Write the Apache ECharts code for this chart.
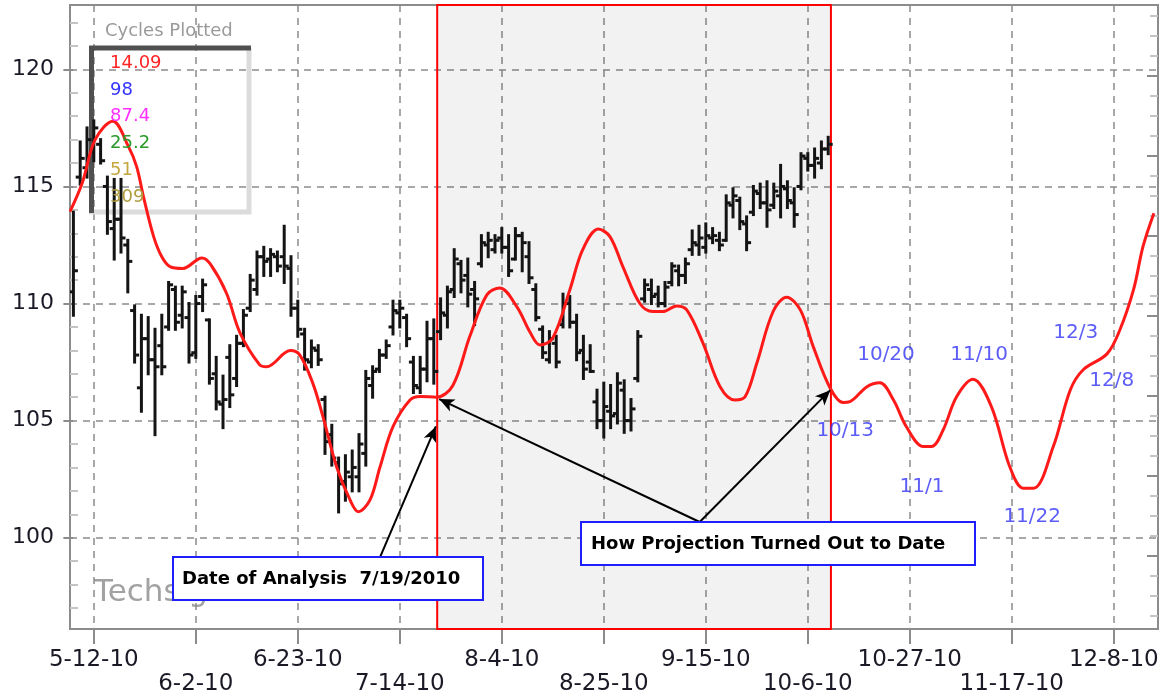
<!DOCTYPE html>
<html>
<head>
<meta charset="utf-8">
<style>
  html, body { margin: 0; padding: 0; background: #fff; }
  #main { width: 1166px; height: 698px; }
</style>
<script src="https://cdn.jsdelivr.net/npm/echarts@6.0.0/dist/echarts.min.js"></script>
</head>
<body>
<div id="main"></div>
<script>
// x runs in weekdays: 0 = Fri 2010-05-07, 3 = Wed 2010-05-12
const tickIdx = [3, 18, 33, 48, 63, 78, 93, 108, 123, 138, 153];
const tickLabels = ['5-12-10', '6-2-10', '6-23-10', '7-14-10', '8-4-10', '8-25-10',
  '9-15-10', '10-6-10', '10-27-10', '11-17-10', '12-8-10'];
const yTicks = [100, 105, 110, 115, 120];
const yMinor = [97, 98, 99, 101, 102, 103, 104, 106, 107, 108, 109, 111, 112, 113, 114,
  116, 117, 118, 119, 121, 122];

// daily bars from weekday 0, [open, high, low, close]
const ohlc = [
  [110.5, 113.9, 109.5, 111.4], [115.4, 116.9, 115.1, 116.2], [115.8, 117.5, 115.4, 117.0],
  [116.5, 117.8, 116.1, 117.5], [116.8, 117.0, 116.0, 116.1], [115.0, 115.4, 113.0, 113.5],
  [113.2, 115.3, 111.9, 113.6], [113.6, 115.3, 112.2, 112.8], [112.5, 112.7, 110.5, 111.8],
  [109.7, 109.9, 107.5, 107.8], [106.4, 109.5, 105.4, 108.5], [108.5, 109.4, 107.0, 107.6],
  [107.6, 108.9, 104.4, 107.3], [108.2, 109.5, 107.0, 107.3], [109.0, 110.9, 108.9, 110.8],
  [110.6, 110.7, 108.9, 109.2], [109.5, 110.7, 109.0, 110.5], [109.4, 110.0, 107.5, 107.8],
  [107.9, 110.3, 107.7, 110.0], [110.3, 111.0, 109.7, 110.8], [109.3, 109.3, 106.6, 106.8],
  [107.0, 107.7, 105.5, 105.8], [105.7, 106.9, 104.7, 105.9], [107.7, 108.2, 105.6, 106.1],
  [106.8, 108.6, 106.5, 108.3], [108.3, 109.7, 108.2, 109.5], [109.8, 111.2, 109.7, 111.0],
  [110.6, 112.2, 110.4, 112.0], [112.0, 112.4, 111.2, 111.8], [111.9, 112.3, 111.2, 112.1],
  [112.0, 112.2, 111.4, 111.6], [112.0, 113.3, 110.9, 111.6], [111.5, 112.0, 109.5, 109.8],
  [109.8, 110.1, 108.6, 108.9], [108.7, 108.9, 107.2, 107.6], [107.5, 108.4, 107.3, 108.1],
  [108.0, 108.2, 107.4, 107.6], [105.9, 106.0, 103.6, 104.1], [104.4, 104.8, 103.1, 103.4],
  [103.2, 103.4, 101.1, 102.3], [102.4, 103.5, 101.6, 102.8], [102.6, 103.7, 102.0, 103.0],
  [102.6, 104.4, 102.0, 104.0], [103.6, 107.1, 103.1, 106.8], [106.5, 107.3, 106.0, 107.1],
  [107.2, 108.0, 107.1, 107.8], [107.8, 108.4, 107.7, 108.2], [109.0, 110.1, 108.7, 109.7],
  [109.6, 110.1, 109.0, 109.8], [109.4, 109.5, 108.2, 108.5], [107.5, 107.7, 106.2, 106.5],
  [106.4, 107.7, 106.2, 107.2], [107.2, 109.2, 106.7, 108.5], [108.5, 109.3, 106.6, 107.1],
  [108.8, 110.2, 108.5, 109.6], [109.5, 110.7, 109.0, 110.5], [110.6, 112.3, 110.3, 111.9],
  [111.7, 111.8, 110.5, 111.0], [111.2, 111.9, 109.9, 110.4], [110.6, 110.9, 109.1, 110.2],
  [111.7, 112.9, 111.6, 112.6], [112.5, 113.0, 112.0, 112.7], [112.3, 112.9, 112.2, 112.7],
  [112.8, 113.2, 112.2, 112.4], [112.4, 112.9, 111.2, 111.4], [111.9, 113.2, 111.9, 112.9],
  [112.9, 113.0, 111.4, 112.6], [112.0, 112.6, 110.9, 111.1], [110.6, 110.8, 109.3, 109.4],
  [108.9, 109.0, 107.7, 107.9], [107.6, 108.8, 107.5, 108.5], [108.3, 108.6, 107.3, 107.5],
  [109.1, 110.4, 109.0, 110.0], [110.0, 110.3, 109.0, 109.2], [109.2, 109.5, 107.6, 107.9],
  [108.0, 108.6, 106.8, 107.2], [107.5, 108.2, 107.1, 107.1], [105.8, 106.3, 104.7, 105.0],
  [105.0, 106.6, 104.3, 105.6], [105.4, 106.5, 104.7, 105.2], [105.3, 107.0, 104.9, 106.6],
  [106.3, 106.7, 104.5, 105.0], [105.0, 105.9, 104.6, 105.5], [106.8, 108.8, 106.7, 108.6],
  [110.2, 111.0, 110.1, 110.8], [110.6, 111.0, 110.0, 110.3], [110.4, 110.7, 109.9, 110.0],
  [110.0, 110.9, 109.9, 110.7], [110.9, 111.7, 110.8, 111.6], [111.4, 111.6, 110.8, 111.2],
  [111.2, 111.9, 110.9, 111.7], [112.3, 113.1, 112.1, 112.6], [112.5, 113.3, 112.1, 112.8],
  [112.4, 113.4, 112.2, 112.9], [112.8, 113.2, 112.6, 112.9], [112.7, 113.0, 112.3, 112.5],
  [112.7, 114.6, 112.7, 114.3], [114.2, 114.9, 113.7, 114.6], [114.4, 114.5, 113.2, 113.5],
  [113.4, 113.7, 112.3, 112.6], [113.9, 115.0, 113.8, 114.8], [114.7, 115.1, 114.1, 114.3],
  [114.3, 115.2, 113.3, 114.0], [114.2, 115.1, 114.1, 114.8], [114.6, 115.9, 113.7, 115.0],
  [114.9, 115.2, 114.1, 114.4], [114.3, 114.9, 113.3, 113.8], [115.0, 116.4, 114.9, 116.3],
  [116.2, 116.4, 115.7, 115.9], [115.9, 116.6, 115.4, 116.2], [116.0, 116.9, 115.8, 116.6],
  [116.6, 117.1, 116.4, 116.8]
];

// composite cycle projection, [weekday, value]
const projection = [
  [-0.5, 113.93], [1.3, 115.15], [3.2, 117.0], [5.8, 117.78], [8.1, 116.7], [9.3, 115.85],
  [10.3, 114.57], [11.8, 112.86], [13.0, 112.0], [14.2, 111.58], [16.1, 111.5], [18.9, 111.95],
  [20.1, 111.7], [22.5, 110.45], [24.5, 108.75], [27.4, 107.38], [28.4, 107.3], [31.9, 107.99],
  [33.3, 107.8], [35.2, 106.6], [36.7, 105.17], [38.7, 103.03], [40.7, 101.6], [41.9, 101.11],
  [43.6, 101.6], [45.1, 103.03], [47.0, 104.74], [49.5, 105.88], [51.0, 106.03], [53.4, 106.0],
  [55.8, 106.5], [58.3, 108.6], [60.8, 110.37], [62.7, 110.66], [65.2, 109.87], [67.2, 108.75],
  [68.6, 108.23], [70.5, 108.53], [73.0, 110.58], [74.9, 112.3], [77.2, 113.18], [78.9, 112.86],
  [80.8, 111.58], [83.3, 110.0], [85.2, 109.66], [86.7, 109.66], [88.7, 109.9], [90.2, 109.73],
  [92.6, 108.3], [95.1, 106.45], [97.3, 105.88], [98.8, 106.03], [100.5, 107.45], [102.9, 109.66],
  [104.9, 110.27], [106.9, 109.73], [108.8, 108.16], [111.3, 106.38], [113.2, 105.77],
  [114.2, 105.81], [116.7, 106.45], [118.6, 106.62], [120.6, 105.88], [122.5, 104.74],
  [125.0, 103.89], [126.2, 103.89], [127.9, 104.6], [129.9, 106.03], [132.3, 106.77],
  [135.0, 105.6], [137.7, 103.03], [139.7, 102.11], [141.2, 102.11], [144.1, 103.89],
  [146.6, 106.31], [148.5, 107.17], [152.0, 107.85], [153.9, 108.88], [155.9, 110.59],
  [157.3, 112.44], [158.9, 113.86]
];

const shadeFrom = 53.5;   // day after analysis
const shadeTo = 111.4;    // last bar
const turnLabels = ['10/13', '10/20', '11/1', '11/10', '11/22', '12/3', '12/8'];
const turnAnchor = [[113.5, 104.56], [119.5, 107.8], [124.8, 102.17], [133.2, 107.8],
  [141.0, 100.88], [147.4, 108.75], [152.7, 106.7]];
const arrows = [
  [[45.1, 99.17], [53.3, 104.75]],
  [[92.1, 100.67], [53.8, 105.92]],
  [[92.1, 100.67], [111.3, 106.3]]
];
const cycleValues = ['14.09', '98', '87.4', '25.2', '51', '309'];
const cycleColors = ['#ff2424', '#3434ff', '#ff30ff', '#2a9a2a', '#c4a640', '#b09c3c'];

// decorative right-hand scale (no labels)
const rightMajor = [3.67, 7.67, 11.67, 15.67, 19.67, 23.67, 27.67];
const rightMinor = [];
for (let v = 0.67; v < 31; v += 1) {
  if (!rightMajor.some(m => Math.abs(m - v) < 0.01)) rightMinor.push(+v.toFixed(2));
}

const chart = echarts.init(document.getElementById('main'));

function renderBar(params, api) {
  const x = api.value(0);
  const o = api.coord([x, api.value(1)]);
  const h = api.coord([x, api.value(2)]);
  const l = api.coord([x, api.value(3)]);
  const c = api.coord([x, api.value(4)]);
  const t = 4.5;
  const style = { stroke: '#141414', lineWidth: 3 };
  return {
    type: 'group',
    children: [
      { type: 'line', shape: { x1: h[0], y1: h[1] - 1.5, x2: l[0], y2: l[1] + 1.5 }, style: style },
      { type: 'line', shape: { x1: o[0] - t, y1: o[1], x2: o[0], y2: o[1] }, style: style },
      { type: 'line', shape: { x1: c[0], y1: c[1], x2: c[0] + t, y2: c[1] }, style: style }
    ]
  };
}

const dash = { color: '#8c8c8c', width: 1.5, type: [7, 6] };

const graphics = [
  { type: 'text', left: 94, top: 577, z: 0,
    style: { text: 'Techsignal', fontSize: 31, fontFamily: 'DejaVu Sans', fill: '#a2a2a2' } },
  { type: 'text', left: 105, top: 22, z: 50,
    style: { text: 'Cycles Plotted', fontSize: 18, fontFamily: 'DejaVu Sans', fill: '#9a9a9a' } },
  { type: 'polyline', z: 1, shape: { points: [[249, 48], [249, 212], [89, 212]] },
    style: { stroke: '#dcdcdc', lineWidth: 5, fill: null } },
  { type: 'polyline', z: 1, shape: { points: [[91.5, 213], [91.5, 48], [251, 48]] },
    style: { stroke: '#505050', lineWidth: 5, fill: null } },
  { type: 'rect', z: 100, shape: { x: 173, y: 557, width: 310, height: 43 },
    style: { fill: '#fff', stroke: '#1e1eff', lineWidth: 2 } },
  { type: 'text', z: 101, x: 182, y: 579,
    style: { text: 'Date of Analysis  7/19/2010', fontSize: 18, fontWeight: 'bold',
      fontFamily: 'DejaVu Sans', fill: '#000', verticalAlign: 'middle' } },
  { type: 'rect', z: 100, shape: { x: 581, y: 522, width: 394, height: 43 },
    style: { fill: '#fff', stroke: '#1e1eff', lineWidth: 2 } },
  { type: 'text', z: 101, x: 591, y: 544,
    style: { text: 'How Projection Turned Out to Date', fontSize: 18, fontWeight: 'bold',
      fontFamily: 'DejaVu Sans', fill: '#000', verticalAlign: 'middle' } }
];
cycleValues.forEach((txt, i) => {
  graphics.push({ type: 'text', z: 50, x: 110, y: 63 + i * 26.9,
    style: { text: txt, fontSize: 18, fontFamily: 'DejaVu Sans', fill: cycleColors[i],
      verticalAlign: 'middle' } });
});

chart.setOption({
  animation: false,
  backgroundColor: '#fff',
  grid: { left: 70, right: 8, top: 5, bottom: 69, show: true, borderColor: '#8c8c8c',
    borderWidth: 2, backgroundColor: 'transparent', containLabel: false },
  xAxis: {
    type: 'value', min: -0.5, max: 159.5,
    axisLine: { show: false },
    axisTick: { show: true, customValues: tickIdx, length: 15,
      lineStyle: { color: '#8c8c8c', width: 2 } },
    axisLabel: { customValues: tickIdx, fontSize: 23, fontFamily: 'DejaVu Sans', color: '#1a1a26',
      margin: 19, lineHeight: 24, hideOverlap: false,
      formatter: function (v) {
        const k = tickIdx.indexOf(Math.round(v));
        if (k < 0) return '';
        return (k % 2 ? '\n' : '') + tickLabels[k];
      } },
    splitLine: { show: true, lineStyle: dash }
  },
  yAxis: [
    { type: 'value', min: 96.1, max: 122.75, position: 'left',
      axisLine: { show: false },
      axisTick: { show: true, customValues: yTicks, length: 10,
        lineStyle: { color: '#8c8c8c', width: 2 } },
      axisLabel: { customValues: yTicks, fontSize: 22, fontFamily: 'DejaVu Sans', color: '#1a1a26',
        margin: 16 },
      splitLine: { show: true, lineStyle: dash } },
    { type: 'value', min: 96.1, max: 122.75, position: 'left',
      axisLine: { show: false },
      axisTick: { show: true, inside: true, customValues: yMinor, length: 8,
        lineStyle: { color: '#c4c4c4', width: 2 } },
      axisLabel: { show: false }, splitLine: { show: false } },
    { type: 'value', min: 0, max: 31.2, position: 'right',
      axisLine: { show: false },
      axisTick: { show: true, inside: true, customValues: rightMajor, length: 11,
        lineStyle: { color: '#8c8c8c', width: 2 } },
      axisLabel: { show: false }, splitLine: { show: false } },
    { type: 'value', min: 0, max: 31.2, position: 'right',
      axisLine: { show: false },
      axisTick: { show: true, inside: true, customValues: rightMinor, length: 8,
        lineStyle: { color: '#c4c4c4', width: 2 } },
      axisLabel: { show: false }, splitLine: { show: false } }
  ],
  graphic: graphics,
  series: [
    {
      type: 'custom', name: 'price', z: 2, clip: true,
      renderItem: renderBar,
      encode: { x: 0, y: [1, 2, 3, 4] },
      data: ohlc.map((r, i) => [i].concat(r)),
      markArea: {
        silent: true,
        itemStyle: { color: 'rgba(0,0,0,0.05)', borderColor: '#ff0000', borderWidth: 2 },
        label: { show: false },
        data: [[{ xAxis: shadeFrom }, { xAxis: shadeTo }]]
      }
    },
    {
      type: 'line', name: 'projection', z: 3,
      data: projection, smooth: 0.35, symbol: 'none',
      lineStyle: { color: '#ff1a1a', width: 3 },
      markLine: {
        silent: true, symbol: ['none', 'arrow'], symbolSize: [10, 15],
        lineStyle: { color: '#000', width: 2, type: 'solid' },
        label: { show: false },
        data: arrows.map(p => [{ coord: p[0] }, { coord: p[1] }])
      }
    },
    {
      type: 'scatter', name: 'turns', z: 4,
      data: turnAnchor, symbolSize: 1, itemStyle: { color: 'rgba(0,0,0,0)' },
      label: { show: true, position: 'inside', fontSize: 20, fontFamily: 'DejaVu Sans',
        color: '#3333f5', formatter: p => turnLabels[p.dataIndex] }
    }
  ]
});
</script>
</body>
</html>
